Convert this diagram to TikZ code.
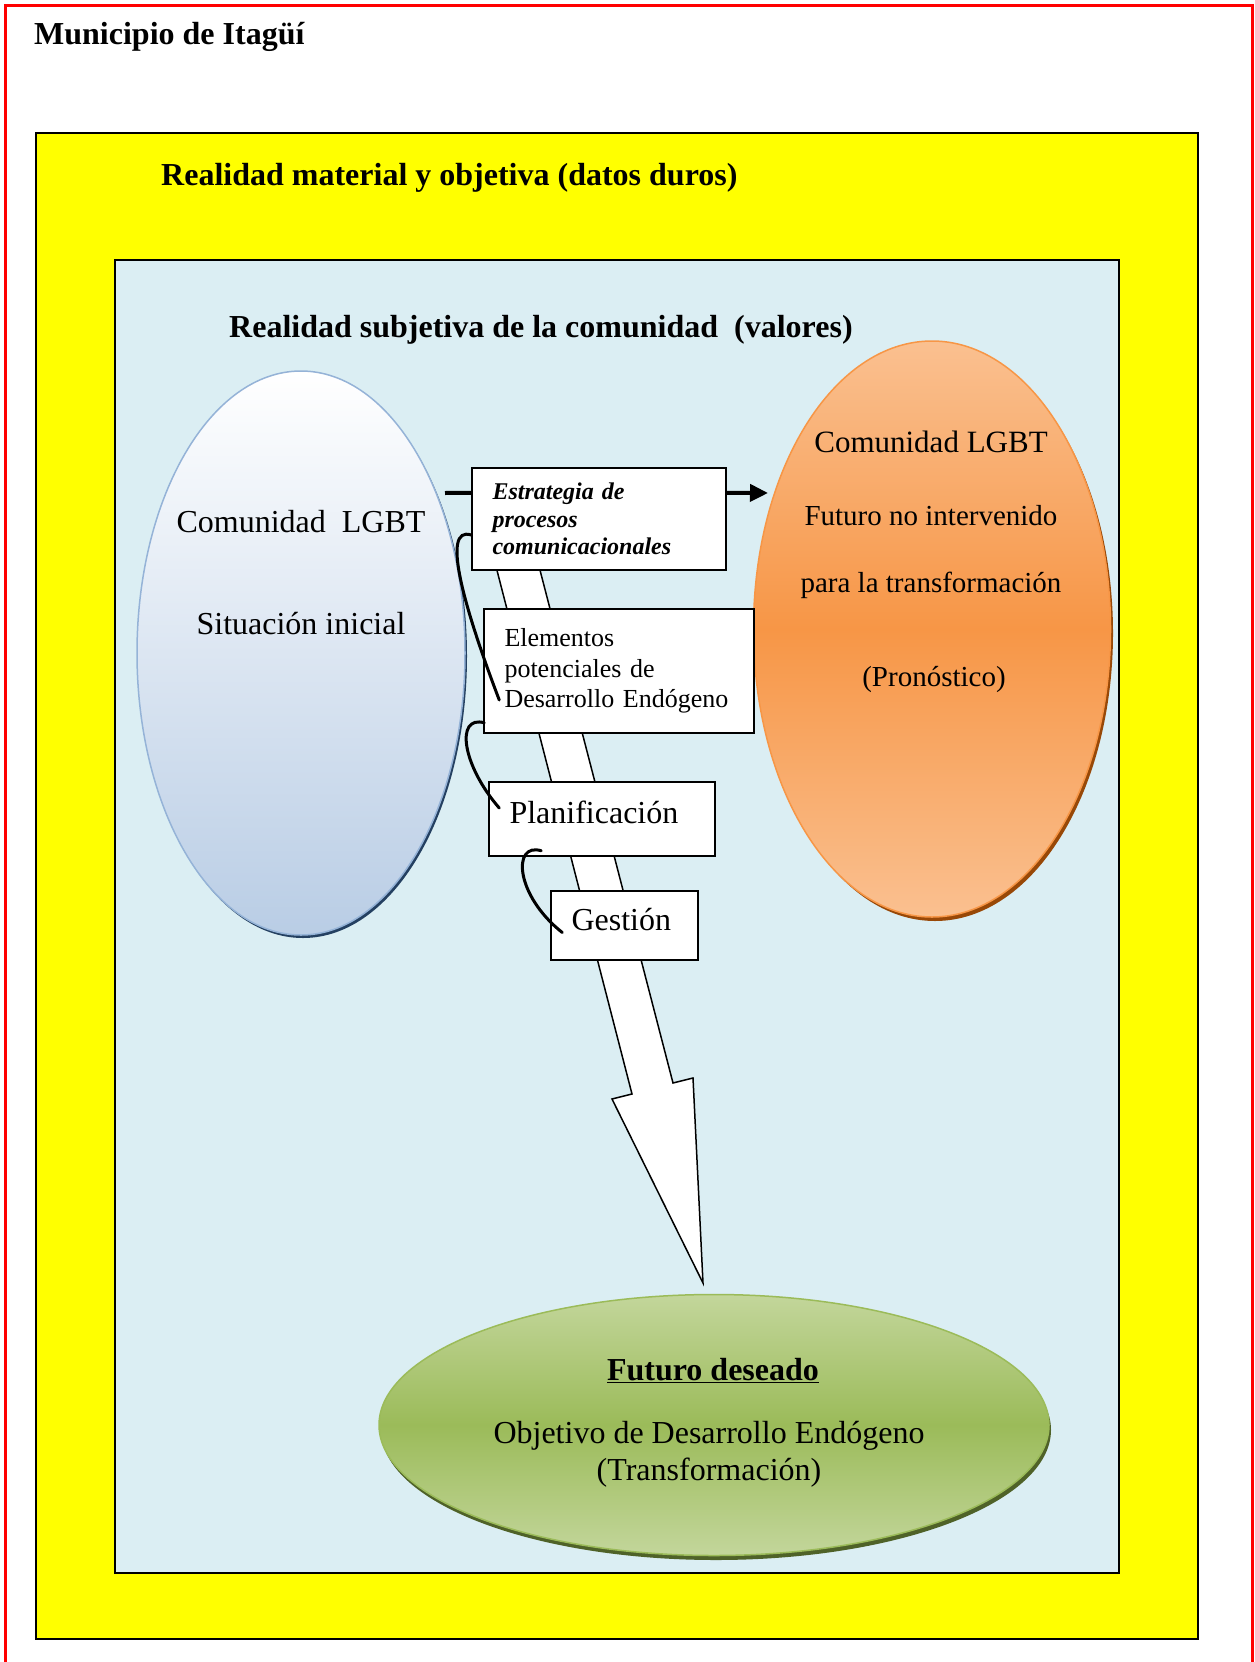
\documentclass[tikz,border=0pt]{standalone}
\usepackage{fontspec}
\setmainfont{Liberation Serif}
\usetikzlibrary{arrows.meta,positioning,calc,shapes.geometric}
\definecolor{itayellow}{RGB}{255,255,0}
\definecolor{paleblue}{RGB}{219,238,243}
\definecolor{steelblue}{RGB}{185,205,229}
\definecolor{steeledge}{RGB}{149,179,215}
\definecolor{navyshade}{RGB}{36,64,97}
\definecolor{orangemid}{RGB}{247,150,70}
\definecolor{orangelight}{RGB}{250,192,144}
\definecolor{orangeshade}{RGB}{152,72,7}
\definecolor{greenmid}{RGB}{155,187,89}
\definecolor{greenlight}{RGB}{195,214,155}
\definecolor{greenshade}{RGB}{79,98,40}

\begin{document}
\begin{tikzpicture}[x=1pt, y=-1pt,
  heading/.style={font=\fontsize{32}{38}\selectfont\bfseries, anchor=base west, inner sep=0},
  txt/.style={font=\fontsize{32}{38}\selectfont, anchor=base, inner sep=0},
  smalltxt/.style={font=\fontsize{29}{34}\selectfont, anchor=base, inner sep=0},
  stagebox/.style={draw, line width=1.5pt, fill=white, align=left, inner ysep=0, inner xsep=20.5pt},
  hook/.style={line width=3pt, line cap=round},
  thickarr/.style={line width=4pt}
]
\useasboundingbox (0,0) rectangle (1255,1662);
\fill[white] (0,0) rectangle (1255,1662);

% frames
\draw[red, line width=3pt] (5,1662) |- (1252,6) -- (1252,1662);
\node[heading] (muni) at (34,45) {Municipio de Itagüí};
\node[draw, line width=1.5pt, fill=itayellow, anchor=north west, minimum width=1162, minimum height=1506, inner sep=0] (material) at (35,132) {};
\node[heading] (materialtxt) at ($(material.north west)+(126,53)$) {Realidad material y objetiva (datos duros)};
\node[draw, line width=2pt, fill=paleblue, anchor=north west, minimum width=1004, minimum height=1313, inner sep=0] (subjetiva) at (114,259) {};
\node[heading] (subjetivatxt) at ($(subjetiva.north west)+(115,78)$) {Realidad subjetiva de la comunidad\ \ (valores)};

% ellipses
\fill[navyshade] (303,656) ellipse [x radius=164pt, y radius=282pt];
\node[ellipse, draw=steeledge, line width=1.5pt, top color=white, bottom color=steelblue, minimum width=328, minimum height=564] (inicial) at (301,653) {};
\node[txt] (inicial1) at (301,532) {Comunidad\ \ LGBT};
\node[txt] (inicial2) at (301,634) {Situación inicial};

\fill[orangeshade] (935,633) ellipse [x radius=178pt, y radius=288pt];
\node[ellipse, draw=orangemid, line width=1.5pt, top color=orangelight, bottom color=orangelight, middle color=orangemid, minimum width=357, minimum height=576] (pronostico) at (932,629) {};
\node[txt, font=\fontsize{31}{36}\selectfont] (pron1) at (931,452) {Comunidad LGBT};
\node[smalltxt] (pron2) at (931,525) {Futuro no intervenido};
\node[smalltxt] (pron3) at (931,592) {para la transformación};
\node[smalltxt] (pron4) at (934,686) {(Pronóstico)};

\fill[greenshade] (716,1430) ellipse [x radius=335pt, y radius=130pt];
\node[ellipse, draw=greenmid, line width=1.5pt, top color=greenlight, bottom color=greenlight, middle color=greenmid, minimum width=670, minimum height=261] (deseado) at (714,1425) {};
\node[txt, font=\fontsize{32}{38}\selectfont\bfseries] (des1) at (713,1380) {\underline{Futuro deseado}};
\node[txt] (des2) at (709,1443) {Objetivo de Desarrollo Endógeno};
\node[txt] (des3) at (709,1480) {(Transformación)};

% big arrow
\draw[fill=white, line width=1.5pt, line join=miter] (484,520) -- (632,1094) -- (612,1099) -- (703,1283) -- (693,1078) -- (673,1083) -- (527,520) -- cycle;

% stages
\node[stagebox, font=\fontsize{24}{27.5}\selectfont\bfseries\itshape, text width=213, minimum height=102] (estr) at (599,519) {Estrategia de\\procesos\\comunicacionales};
\node[stagebox, font=\fontsize{26}{30.5}\selectfont, text width=229, minimum height=124] (elem) at (619,671) {Elementos\\potenciales de\\Desarrollo Endógeno};
\node[stagebox, font=\fontsize{32}{38}\selectfont, text width=185, minimum height=74, text depth=14pt] (plan) at (602,819) {Planificación};
\node[stagebox, font=\fontsize{32}{38}\selectfont, text width=106, minimum height=69, text depth=12pt] (gest) at (624.5,925.5) {Gestión};

% feed line and arrow
\coordinate (feed) at (445,493);
\coordinate (tip) at (768,493);
\draw[thickarr] (feed) -- ($(estr.north west)+(0,25.5)$);
\draw[thickarr, -{Triangle[length=18pt,width=17pt]}] ($(estr.north east)+(0,25.5)$) -- (tip);

% hooks
\draw[hook] ($(estr.west)+(0,16)$) .. controls (440,525) and (465,610) .. ($(elem.west)+(16,29)$);
\draw[hook] ($(elem.south west)+(1,-11)$) .. controls (455,715) and (462,765) .. ($(plan.west)+(11,-11)$);
\draw[hook] ($(plan.south west)+(53,-6)$) .. controls (512,842) and (515,895) .. ($(gest.west)+(12,7)$);
\end{tikzpicture}
\end{document}
